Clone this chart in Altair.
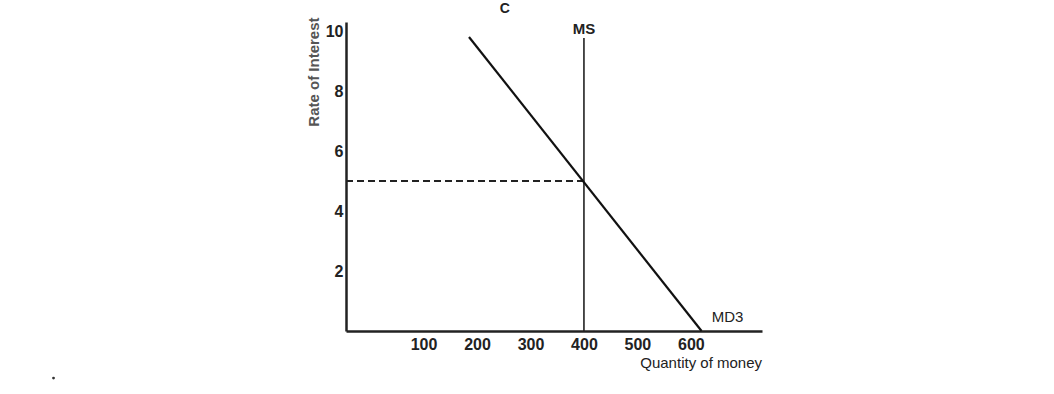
import altair as alt
import pandas as pd

# Data
md_x = [185, 620]
md_y = [9.8, 0]
ms_x = [400, 400]
ms_y = [0, 9.77]
eq_x = [-45, 400]
eq_y = [5, 5]
x_ticks = [100, 200, 300, 400, 500, 600]
y_ticks = [2, 4, 6, 8, 10]

labels_text = ["C", "MS", "MD3", "Quantity of money"]
labels_x = [252, 400, 639, 733]
labels_y = [10.6, 10.07, 0.47, -1.07]
labels_bold = ["bold", "bold", "normal", "normal"]
labels_align = ["center", "center", "left", "right"]
labels_size = [14, 15, 15, 15]

XD = [-45, 733]
YD = [0, 10.3]
FONT = "Liberation Sans"

x_scale = alt.Scale(domain=XD, nice=False, zero=False)
y_scale = alt.Scale(domain=YD, nice=False, zero=False)

base = alt.Chart(pd.DataFrame({"x": md_x, "y": md_y}))

axes = base.mark_point(opacity=0).encode(
    x=alt.X("x:Q", scale=x_scale,
            axis=alt.Axis(values=x_ticks, title=None, grid=False, ticks=False,
                          labelPadding=5, labelFontSize=16, labelFontWeight="bold",
                          labelFont=FONT, labelColor="#222", domainColor="#222",
                          domainWidth=2.5, labelFlush=False, labelAngle=0)),
    y=alt.Y("y:Q", scale=y_scale,
            axis=alt.Axis(values=y_ticks, title=None, grid=False, ticks=False,
                          labelPadding=3, labelFontSize=16, labelFontWeight="bold",
                          labelFont=FONT, labelColor="#222", domainColor="#222",
                          domainWidth=2.5, labelFlush=False, labelAngle=0)),
)

md = base.mark_line(color="#111", strokeWidth=2.2).encode(
    x=alt.X("x:Q", scale=x_scale), y=alt.Y("y:Q", scale=y_scale))

ms = alt.Chart(pd.DataFrame({"x": ms_x, "y": ms_y})).mark_line(
    color="#222", strokeWidth=1.6).encode(
    x=alt.X("x:Q", scale=x_scale), y=alt.Y("y:Q", scale=y_scale))

eq = alt.Chart(pd.DataFrame({"x": eq_x, "y": eq_y})).mark_line(
    color="#222", strokeWidth=2, strokeDash=[7, 4]).encode(
    x=alt.X("x:Q", scale=x_scale), y=alt.Y("y:Q", scale=y_scale))

lab_df = pd.DataFrame({"t": labels_text, "x": labels_x, "y": labels_y})

texts = []
for i in range(len(labels_text)):
    texts.append(
        alt.Chart(lab_df.iloc[[i]]).mark_text(
            font=FONT, fontSize=labels_size[i], fontWeight=labels_bold[i],
            align=labels_align[i], baseline="middle" if i > 0 else "alphabetic",
            color="#222").encode(
            x=alt.X("x:Q", scale=x_scale), y=alt.Y("y:Q", scale=y_scale),
            text="t:N"))

ylab = alt.Chart(pd.DataFrame({"t": ["Rate of Interest"], "x": [-105], "y": [8.63]})).mark_text(
    font=FONT, fontSize=15, fontWeight="bold", angle=270, align="center",
    baseline="middle", color="#555").encode(
    x=alt.X("x:Q", scale=x_scale), y=alt.Y("y:Q", scale=y_scale), text="t:N")

dot = alt.Chart(pd.DataFrame({"x": [-592], "y": [-1.57]})).mark_point(
    filled=True, size=8, color="#333", opacity=1).encode(
    x=alt.X("x:Q", scale=x_scale), y=alt.Y("y:Q", scale=y_scale))

chart = alt.layer(axes, eq, ms, md, *texts, ylab, dot).properties(
    width=416, height=309,
    autosize=alt.AutoSizeParams(type="none"),
    padding={"left": 346, "top": 22, "right": 292, "bottom": 63},
    background="white",
).configure_view(stroke=None)

chart.save("out.html", embed_options={"renderer": "svg", "actions": False})
